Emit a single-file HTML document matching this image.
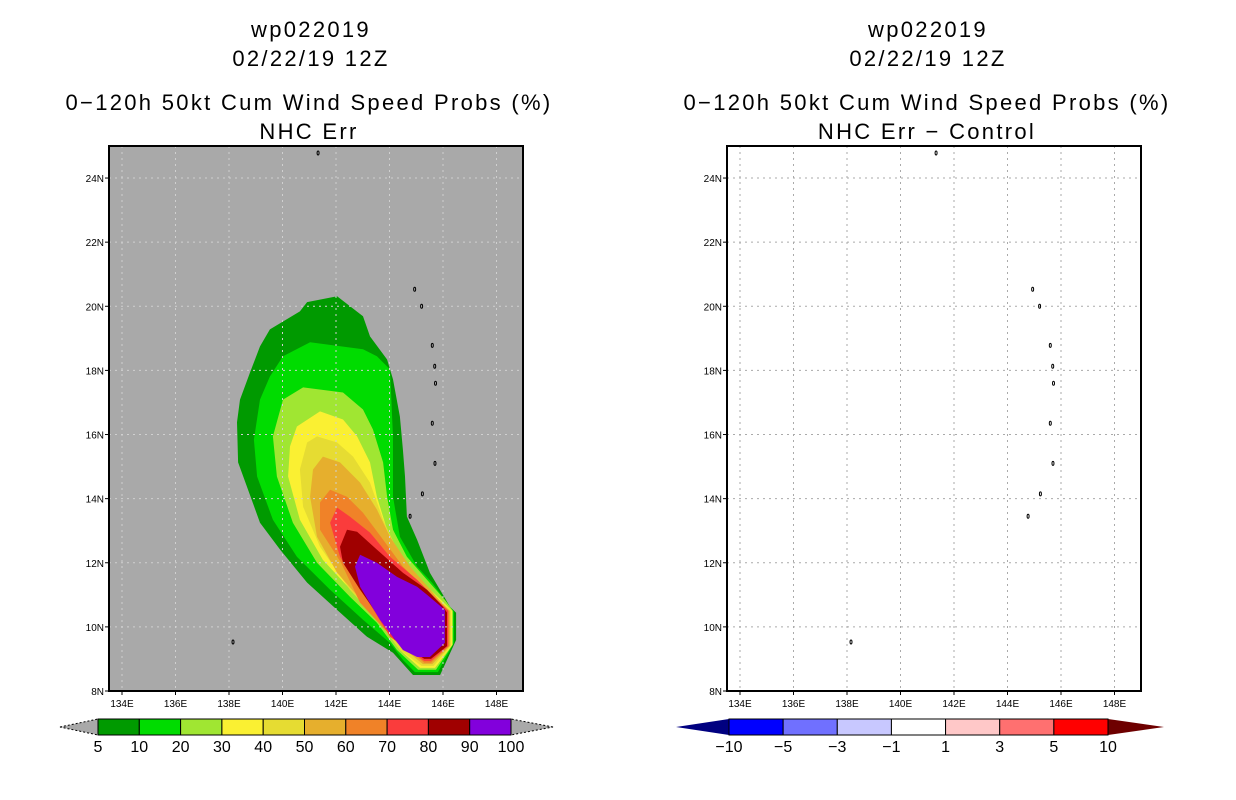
<!DOCTYPE html>
<html><head><meta charset="utf-8"><style>
body{margin:0;background:#fff;}
svg{display:block;}
text{font-family:"Liberation Sans",sans-serif;fill:#000;}
.t{font-size:22px;letter-spacing:2.3px;}
.tk{font-size:10px;}
.cb{font-size:16px;}
</style></head><body>
<svg id="chart" width="1236" height="800" viewBox="0 0 1236 800" xmlns="http://www.w3.org/2000/svg">
<rect width="1236" height="800" fill="#fff"/>
<g>
<text class="t" x="311" y="37" text-anchor="middle">wp022019</text>
<text class="t" x="311" y="66" text-anchor="middle">02/22/19 12Z</text>
<text class="t" x="309" y="110" text-anchor="middle">0−120h 50kt Cum Wind Speed Probs (%)</text>
<text class="t" x="309" y="139" text-anchor="middle">NHC Err</text>
</g>
<g>
<text class="t" x="928" y="37" text-anchor="middle">wp022019</text>
<text class="t" x="928" y="66" text-anchor="middle">02/22/19 12Z</text>
<text class="t" x="927" y="110" text-anchor="middle">0−120h 50kt Cum Wind Speed Probs (%)</text>
<text class="t" x="927" y="139" text-anchor="middle">NHC Err − Control</text>
</g>
<g id="left"></g>
<g id="right"></g>
<g id="cbl"></g>
<g id="cbr"></g>
</svg>
<script>
const NS="http://www.w3.org/2000/svg";
const lonTicks=[134,136,138,140,142,144,146,148];
const latTicks=[8,10,12,14,16,18,20,22,24];
const levelNames=["5","10","20","30","40","50","60","70","80","90"];
const levelColors=["#009a00","#00dc00","#a0e632","#faf032","#e6dc32","#e6af2d","#f08228","#fa3c3c","#a00000","#8200dc"];
const lev5=[[142.04,20.31],[143.01,19.69],[143.27,19.06],[143.91,18.34],[144.13,17.72],[144.39,16.56],[144.50,15.53],[144.58,14.69],[144.65,13.44],[145.03,12.72],[145.51,11.69],[146.26,10.63],[146.49,10.44],[146.49,9.59],[145.89,8.5],[144.88,8.5],[144.13,9.19],[143.16,9.69],[142.04,10.53],[140.92,11.38],[139.91,12.41],[139.16,13.25],[138.34,15.13],[138.30,16.38],[138.41,17.09],[138.79,17.94],[139.16,18.75],[139.53,19.28],[140.65,19.84],[140.92,20.13]];
const lev10=[[141.03,18.88],[143.01,18.66],[143.53,18.44],[144.02,18.03],[144.13,15.94],[144.13,14.06],[144.39,12.81],[145.03,11.88],[145.59,11.38],[146.15,10.75],[146.41,10.47],[146.41,9.5],[145.81,8.59],[144.95,8.59],[144.50,8.97],[144.02,9.5],[143.01,10.22],[141.78,11.16],[140.54,12.19],[139.64,13.34],[139.05,14.69],[138.93,15.84],[139.16,17.09],[139.53,17.81],[140.02,18.44]];
const lev20=[[140.77,17.47],[142.26,17.31],[143.01,16.78],[143.38,16.16],[143.76,15.13],[143.91,14.06],[144.13,13.03],[144.65,12.19],[145.40,11.47],[146.07,10.84],[146.37,10.5],[146.37,9.45],[145.74,8.66],[145.07,8.66],[144.28,9.28],[143.53,10.13],[142.52,10.94],[141.29,12.0],[140.39,13.25],[139.79,14.69],[139.64,15.94],[140.02,17.09]];
const lev30=[[141.40,16.72],[142.26,16.47],[142.79,15.94],[143.27,15.13],[143.53,14.06],[143.91,13.03],[144.50,12.09],[145.25,11.38],[146.0,10.78],[146.34,10.5],[146.34,9.43],[145.70,8.72],[145.14,8.72],[144.39,9.28],[143.76,10.0],[142.79,10.94],[141.51,12.09],[140.65,13.34],[140.21,14.69],[140.28,15.63],[140.54,16.25]];
const lev40=[[141.29,15.94],[142.04,15.75],[142.64,15.31],[143.27,14.5],[143.76,13.34],[144.28,12.41],[145.03,11.56],[145.78,10.91],[146.30,10.5],[146.30,9.42],[145.65,8.78],[145.2,8.78],[144.39,9.28],[143.64,10.13],[142.52,11.16],[141.40,12.5],[140.77,13.75],[140.65,14.91],[140.92,15.75]];
const lev50=[[141.51,15.31],[142.15,15.13],[142.90,14.5],[143.53,13.66],[144.02,12.81],[144.77,11.88],[145.63,11.06],[146.0,10.7],[146.26,10.5],[146.26,9.41],[145.6,8.84],[145.25,8.84],[144.28,9.5],[143.27,10.53],[142.04,11.69],[141.29,12.81],[141.03,14.06],[141.14,14.91]];
const lev60=[[141.78,14.28],[142.41,14.06],[143.01,13.56],[143.76,12.72],[144.50,11.88],[145.51,11.06],[146.22,10.5],[146.22,9.4],[145.55,8.88],[145.3,8.88],[143.83,9.91],[142.90,10.75],[142.19,12.0],[141.40,13.03],[141.40,13.88]];
const lev70=[[142.04,13.72],[142.52,13.44],[143.27,12.94],[144.02,12.19],[145.03,11.47],[145.78,10.84],[146.19,10.5],[146.19,9.4],[145.55,8.94],[145.3,8.94],[144.02,9.69],[142.94,11.16],[142.15,12.19],[141.78,13.25]];
const lev80=[[142.41,13.03],[142.79,12.97],[143.53,12.41],[144.50,11.69],[145.40,11.16],[146.0,10.63],[146.15,10.45],[146.15,9.4],[145.55,9.0],[145.3,9.0],[144.2,9.6],[143.76,10.13],[142.90,11.16],[142.26,12.0],[142.15,12.5]];
const lev90=[[142.90,12.25],[143.53,12.0],[144.28,11.56],[145.03,11.25],[145.40,11.0],[146.07,10.53],[146.07,9.5],[145.51,9.06],[145.03,9.06],[144.50,9.28],[143.64,10.22],[142.90,11.25],[142.71,11.88]];
const levels=[lev5,lev10,lev20,lev30,lev40,lev50,lev60,lev70,lev80,lev90];
const islands=[[141.33,24.78],[144.94,20.53],[145.2,20.0],[145.6,18.78],[145.69,18.13],[145.72,17.6],[145.6,16.35],[145.7,15.1],[145.23,14.15],[144.77,13.45],[138.15,9.53]];
const diffLabels=["−10","−5","−3","−1","1","3","5","10"];
const diffColors=["#0000ff","#7070ff","#c8c8ff","#ffffff","#ffc8c8","#ff7070","#ff0000"];

function el(tag,attrs,parent){const e=document.createElementNS(NS,tag);for(const k in attrs)e.setAttribute(k,attrs[k]);parent.appendChild(e);return e;}

function panel(id,x0,bg,gridColor,fill){
  const g=document.getElementById(id);
  const W=414,H=545,y0=146;
  const xs=lon=>x0+13+(lon-134)*26.75;
  const ys=lat=>y0+H-(lat-8)*32.06;
  el('rect',{x:x0,y:y0,width:W,height:H,fill:bg},g);
  if(fill){
    levels.forEach((pts,i)=>{
      const p=el('polygon',{points:pts.map(q=>xs(q[0]).toFixed(1)+','+ys(q[1]).toFixed(1)).join(' '),fill:levelColors[i]},g);
      
      
    });
  }
  lonTicks.forEach(l=>{
    const gl=el('line',{x1:xs(l),x2:xs(l),y1:y0,y2:y0+H,stroke:gridColor,'stroke-width':1,'stroke-dasharray':'2,4'},g);
    
    
    el('line',{x1:xs(l),x2:xs(l),y1:y0+H,y2:y0+H+4,stroke:'#000'},g);
    const t=el('text',{x:xs(l),y:y0+H+16,'text-anchor':'middle',class:'tk'},g);t.textContent=l+'E';
    
    
  });
  latTicks.forEach(l=>{
    if(l>8){const gl=el('line',{x1:x0,x2:x0+W,y1:ys(l),y2:ys(l),stroke:gridColor,'stroke-width':1,'stroke-dasharray':'2,4'},g);
    
    }
    el('line',{x1:x0-4,x2:x0,y1:ys(l),y2:ys(l),stroke:'#000'},g);
    const t=el('text',{x:x0-5,y:ys(l)+4,'text-anchor':'end',class:'tk'},g);t.textContent=l+'N';
    
    
  });
  islands.forEach(q=>{
    const c=el('ellipse',{cx:xs(q[0]),cy:ys(q[1]),rx:1,ry:2,fill:'none',stroke:'#000','stroke-width':1},g);
    
    
  });
  el('rect',{x:x0,y:y0,width:W,height:H,fill:'none',stroke:'#000','stroke-width':2},g);
}
panel('left',109,'#a9a9a9','#d0d0d0',true);
panel('right',727,'#ffffff','#aaaaaa',false);

(function(){
  const g=document.getElementById('cbl');const x0=98,x1=511,y=719,h=16,w=(x1-x0)/levelColors.length;
  el('polygon',{points:`60,${y+h/2} ${x0},${y} ${x0},${y+h}`,fill:'#a9a9a9',stroke:'#000','stroke-dasharray':'2,2'},g);
  el('polygon',{points:`553,${y+h/2} ${x1},${y} ${x1},${y+h}`,fill:'#a9a9a9',stroke:'#000','stroke-dasharray':'2,2'},g);
  levelColors.forEach((c,i)=>{const r=el('rect',{x:x0+i*w,y:y,width:w,height:h,fill:c,stroke:'#000'},g);
    
    });
  levelNames.concat(["100"]).forEach((s,i)=>{const t=el('text',{x:x0+i*w,y:752,'text-anchor':'middle',class:'cb'},g);t.textContent=s;
    
    });
})();
(function(){
  const g=document.getElementById('cbr');const x0=729,x1=1108,y=719,h=16,w=(x1-x0)/diffColors.length;
  el('polygon',{points:`676,${y+h/2} ${x0},${y} ${x0},${y+h}`,fill:'#000080'},g);
  el('polygon',{points:`1164,${y+h/2} ${x1},${y} ${x1},${y+h}`,fill:'#6e0000'},g);
  diffColors.forEach((c,i)=>{const r=el('rect',{x:x0+i*w,y:y,width:w,height:h,fill:c,stroke:'#000'},g);
    
    });
  diffLabels.forEach((s,i)=>{const t=el('text',{x:x0+i*w,y:752,'text-anchor':'middle',class:'cb'},g);t.textContent=s;
    
    });
})();
</script>
</body></html>
